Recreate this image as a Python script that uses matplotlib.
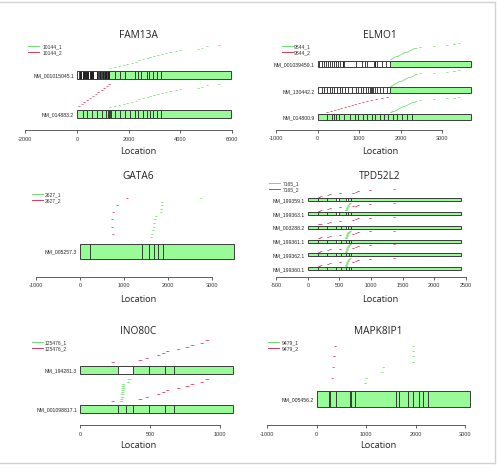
import matplotlib
matplotlib.use('Agg')
import matplotlib.pyplot as plt
from matplotlib.patches import Rectangle
from matplotlib.lines import Line2D

plt.rcParams['axes.unicode_minus'] = False
W, H = 497, 477
BAR = '#98FB98'
EDGE = '#3c3c3c'
PGREEN = '#6fdc6f'
PRED = '#d83a5a'

# ---------------- FAM13A
fam13a_tx = ['NM_001015045.1', 'NM_014883.2']
fam13a_len = [5950, 5950]
fam13a_lines = [
    [90, 100, 110, 120, 130, 142, 155, 220, 232, 245, 258, 270, 282, 295, 310, 350, 362, 375,
     388, 400, 412, 425, 439, 505, 515, 525, 535, 542, 570, 580, 590, 600, 610, 620, 632,
     760, 770, 780, 790, 800, 865, 878, 890, 903, 915, 980, 990, 1000, 1010, 1020, 1060,
     1070, 1080, 1090, 1100, 1112, 1125, 1136, 1148, 1190, 1200, 1210, 1220, 1230, 1240,
     1470, 1664, 1858, 2245, 2374, 2477, 2697, 2800, 2929, 3084, 3239],
    [219, 400, 568, 761, 955, 1122, 1212, 1240, 1270, 1303, 1470, 1664, 1858, 2051, 2245,
     2374, 2568, 2697, 2826, 2955, 3084, 3239],
]
fam13a_white = [[(0, 1250)], []]
fam13a_sets = ['10144_1', '10144_2']
fam13a_p1 = [1270, 1440, 1620, 1790, 1940, 2110, 2270, 2400, 2540, 2720, 2820, 2950, 3110,
             3280, 3430, 3600, 3830, 3990, 4690, 4830, 5020, 5470]
fam13a_p1_rows = ['NM_001015045.1', 'NM_014883.2']
fam13a_p2 = [70, 180, 270, 390, 490, 600, 720, 820, 940, 1040, 1150, 1240]
fam13a_p2_rows = ['NM_014883.2']

# ---------------- ELMO1
elmo1_tx = ['NM_001039459.1', 'NM_130442.2', 'NM_014800.9']
elmo1_len = [3710, 3710, 3710]
elmo1_lines = [
    [40, 96, 153, 201, 257, 298, 354, 402, 443, 499, 539, 604, 615, 644, 926, 1079, 1143,
     1200, 1361, 1375, 1390, 1425, 1546, 1651, 1740],
    [96, 153, 217, 298, 354, 402, 475, 539, 596, 660, 741, 821, 926, 982, 1046, 1103, 1167,
     1223, 1264, 1288, 1320, 1345, 1385, 1425, 1506, 1586, 1667, 1740],
    [233, 338, 394, 443, 523, 644, 781, 902, 982, 1103, 1200, 1304, 1385, 1506, 1602, 1707,
     1812, 1909, 2030, 2150, 2287],
]
elmo1_white = [[(0, 1740)], [(0, 1740)], []]
elmo1_sets = ['9844_1', '9844_2']
elmo1_p1 = [1750, 1790, 1830, 1870, 1910, 1950, 1990, 2040, 2080, 2130, 2170, 2220, 2270,
            2320, 2360, 2470, 2790, 3100, 3280, 3390]
elmo1_p1_rows = ['NM_001039459.1', 'NM_130442.2', 'NM_014800.9']
elmo1_p2 = [220, 310, 400, 480, 560, 650, 740, 820, 900, 990, 1080, 1170, 1280, 1400,
            1540, 1670]
elmo1_p2_rows = ['NM_014800.9']

# ---------------- GATA6
gata6_tx = ['NM_005257.3']
gata6_len = [3485]
gata6_lines = [[235, 1398, 1565, 1678, 1776, 1882]]
gata6_white = [[]]
gata6_sets = ['2627_1', '2627_2']
gata6_p1 = [1603, 1617, 1633, 1655, 1671, 1685, 1701, 1814, 1830, 1837, 1837, 2721]
gata6_p1_rows = ['NM_005257.3']
gata6_p2 = [726, 718, 718, 741, 832, 1043]
gata6_p2_rows = ['NM_005257.3']

# ---------------- TPD52L2
tpd_tx = ['NM_199359.1', 'NM_199363.1', 'NM_003288.2', 'NM_199361.1', 'NM_199362.1',
          'NM_199360.1']
tpd_len = [2430] * 6
tpd_lines = [
    [155, 300, 445, 500, 600, 640, 680],
    [155, 300, 445, 500, 600, 640, 690],
    [155, 300, 445, 520, 600, 640, 690],
    [155, 300, 445, 520, 600, 650, 690],
    [155, 300, 445, 520, 600, 650, 690],
    [155, 300, 445, 520, 600, 650, 690],
]
tpd_white = [[(445, 500), (600, 640)], [(445, 500)], [(600, 640)], [(445, 480)], [], []]
tpd_sets = ['7165_1', '7165_2']
tpd_p1 = [590, 595, 600, 605, 612, 620, 630, 640, 655]
tpd_p1_rows = ['NM_199363.1', 'NM_199361.1', 'NM_199362.1', 'NM_199360.1']
tpd_p2 = [160, 190, 300, 345, 500, 705, 745, 785, 975, 1360]
tpd_p2_rows = tpd_tx

# ---------------- INO80C
ino_tx = ['NM_194281.3', 'NM_001098817.1']
ino_len = [1095, 1095]
ino_lines = [[274, 381, 495, 607, 671], [274, 327, 381, 495, 607, 671]]
ino_white = [[(274, 381)], []]
ino_sets = ['125476_1', '125476_2']
ino_p1 = [282, 284, 286, 288, 290, 292, 294, 296, 298, 333, 336]
ino_p1_rows = ['NM_001098817.1']
ino_p2 = [221, 417, 464, 548, 583, 612, 690, 750, 786, 857, 893]
ino_p2_rows = ino_tx

# ---------------- MAPK8IP1
mapk_tx = ['NM_005456.2']
mapk_len = [3100]
mapk_lines = [[256, 270, 384, 674, 700, 782, 1598, 1672, 1840, 1955, 2076, 2157, 2245]]
mapk_white = [[]]
mapk_sets = ['9479_1', '9479_2']
mapk_p1 = [963, 991, 1301, 1335, 1934, 1942, 1942, 1942]
mapk_p1_rows = ['NM_005456.2']
mapk_p2 = [303, 324, 336, 356]
mapk_p2_rows = ['NM_005456.2']

# layout (pixels): zero px, px per bp, row0 px, row spacing, axis px, ticks, box
panels = [
    dict(title='FAM13A', tx=fam13a_tx, ln=fam13a_len, lines=fam13a_lines, white=fam13a_white,
         sets=fam13a_sets, p=[(fam13a_p1, fam13a_p1_rows), (fam13a_p2, fam13a_p2_rows)],
         x0=77.0, ppu=0.02584, r0=115, sp=39, axy=131, ticks=[-2000, 0, 2000, 4000, 6000],
         box=(5, 245, 40), tc=138, ty=35, ly=152, leg=(28, 43, 47)),
    dict(title='ELMO1', tx=elmo1_tx, ln=elmo1_len, lines=elmo1_lines, white=elmo1_white,
         sets=elmo1_sets, p=[(elmo1_p1, elmo1_p1_rows), (elmo1_p2, elmo1_p2_rows)],
         x0=317.7, ppu=0.0414, r0=118, sp=26.65, axy=130.7,
         ticks=[-1000, 0, 1000, 2000, 3000],
         box=(252, 492, 40), tc=380, ty=35, ly=152, leg=(282, 294, 47)),
    dict(title='GATA6', tx=gata6_tx, ln=gata6_len, lines=gata6_lines, white=gata6_white,
         sets=gata6_sets, p=[(gata6_p1, gata6_p1_rows), (gata6_p2, gata6_p2_rows)],
         x0=80.0, ppu=0.0441, r0=252.3, sp=70, axy=277.7,
         ticks=[-1000, 0, 1000, 2000, 3000],
         box=(5, 245, 185), tc=138, ty=177, ly=299, leg=(32, 45, 194.5)),
    dict(title='TPD52L2', tx=tpd_tx, ln=tpd_len, lines=tpd_lines, white=tpd_white,
         sets=tpd_sets, p=[(tpd_p1, tpd_p1_rows), (tpd_p2, tpd_p2_rows)],
         x0=307.9, ppu=0.0631, r0=269.7, sp=13.8, axy=277.7,
         ticks=[-500, 0, 500, 1000, 1500, 2000, 2500],
         box=(252, 492, 185), tc=380, ty=177, ly=299, leg=(269, 283, 183.5)),
    dict(title='INO80C', tx=ino_tx, ln=ino_len, lines=ino_lines, white=ino_white,
         sets=ino_sets, p=[(ino_p1, ino_p1_rows), (ino_p2, ino_p2_rows)],
         x0=80.0, ppu=0.140, r0=410, sp=39, axy=426, ticks=[0, 500, 1000],
         box=(5, 245, 335), tc=138, ty=331, ly=445, leg=(32, 45, 342.5)),
    dict(title='MAPK8IP1', tx=mapk_tx, ln=mapk_len, lines=mapk_lines, white=mapk_white,
         sets=mapk_sets, p=[(mapk_p1, mapk_p1_rows), (mapk_p2, mapk_p2_rows)],
         x0=316.7, ppu=0.04943, r0=400, sp=70, axy=426,
         ticks=[-1000, 0, 1000, 2000, 3000],
         box=(252, 492, 335), tc=378, ty=331, ly=445, leg=(268, 282, 342.5)),
]

fig = plt.figure(figsize=(W / 100, H / 100), dpi=100)
fig.patch.set_facecolor('white')

for P in panels:
    left, right, top = P['box']
    bottom = P['axy']
    ax = fig.add_axes([left / W, 1 - bottom / H, (right - left) / W, (bottom - top) / H])
    ax.set_xlim((left - P['x0']) / P['ppu'], (right - P['x0']) / P['ppu'])
    ax.set_ylim(-(bottom - P['r0']) / P['sp'], (P['r0'] - top) / P['sp'])
    n = len(P['tx'])
    rowy = {name: n - 1 - i for i, name in enumerate(P['tx'])}
    hh = 0.11
    for i, name in enumerate(P['tx']):
        y = rowy[name]
        ax.add_patch(Rectangle((0, y - hh), P['ln'][i], 2 * hh, facecolor=BAR,
                               edgecolor='none', zorder=2))
        for a, b in P['white'][i]:
            ax.add_patch(Rectangle((a, y - hh), b - a, 2 * hh, facecolor='white',
                                   edgecolor='none', zorder=2.5))
        ax.vlines(P['lines'][i], y - hh, y + hh, color='#222222', lw=0.6, zorder=3)
        ax.add_patch(Rectangle((0, y - hh), P['ln'][i], 2 * hh, facecolor='none',
                               edgecolor=EDGE, lw=0.7, zorder=4))
        ax.annotate(name, (0, y), xytext=(-2, 0), textcoords='offset points',
                    ha='right', va='center', fontsize=3.7, family='Liberation Sans',
                    color='#222222')
    for (xs, rows), col in zip(P['p'], [PGREEN, PRED]):
        m = len(xs)
        for r in rows:
            ys = [rowy[r] + 0.15 + 0.61 * (k + 1) / m for k in range(m)]
            ax.hlines(ys, xs, [x + 25 for x in xs], color=col, lw=0.6, alpha=0.7, zorder=5)
            ax.plot([x + 12 for x in xs], ys, ls='none', marker='_', ms=1.6, mew=0.7,
                    color=col, alpha=0.7, zorder=5)
    for s in ['left', 'top', 'right']:
        ax.spines[s].set_visible(False)
    ax.spines['bottom'].set_bounds(P['ticks'][0], P['ticks'][-1])
    ax.spines['bottom'].set_linewidth(0.6)
    ax.spines['bottom'].set_color('#444444')
    ax.set_xticks(P['ticks'])
    ax.set_xticklabels([str(t) for t in P['ticks']], fontsize=4, family='Liberation Sans',
                       color='#333333')
    ax.tick_params(axis='x', length=2.2, width=0.6, pad=1.8, color='#444444')
    ax.set_yticks([])
    ax.patch.set_alpha(0)

    fig.text(P['tc'] / W, 1 - P['ty'] / H, P['title'], ha='center', va='center',
             fontsize=7.3, family='Open Sans', color='#222222')
    fig.text(P['tc'] / W, 1 - P['ly'] / H, 'Location', ha='center', va='center',
             fontsize=6.6, family='Open Sans', color='#222222')
    lx, tx_, ly = P['leg']
    for j, (name, col) in enumerate(zip(P['sets'], [PGREEN, PRED])):
        yy = 1 - (ly + 6 * j) / H
        fig.add_artist(Line2D([lx / W, (lx + 11) / W], [yy, yy], color=col, lw=0.7))
        fig.text(tx_ / W, yy, name, ha='left', va='center', fontsize=3.6,
                 family='Liberation Sans', color='#333333')

# light frame around the figure
fc = '#d2d2d2'
fig.add_artist(Line2D([0, 495 / W], [1 - 3 / H, 1 - 3 / H], color=fc, lw=1))
fig.add_artist(Line2D([495 / W, 495 / W], [1 - 3 / H, 1 - 464 / H], color=fc, lw=1))
fig.add_artist(Line2D([0, 495 / W], [1 - 464 / H, 1 - 464 / H], color=fc, lw=1))

fig.savefig('out.png', dpi=100)
